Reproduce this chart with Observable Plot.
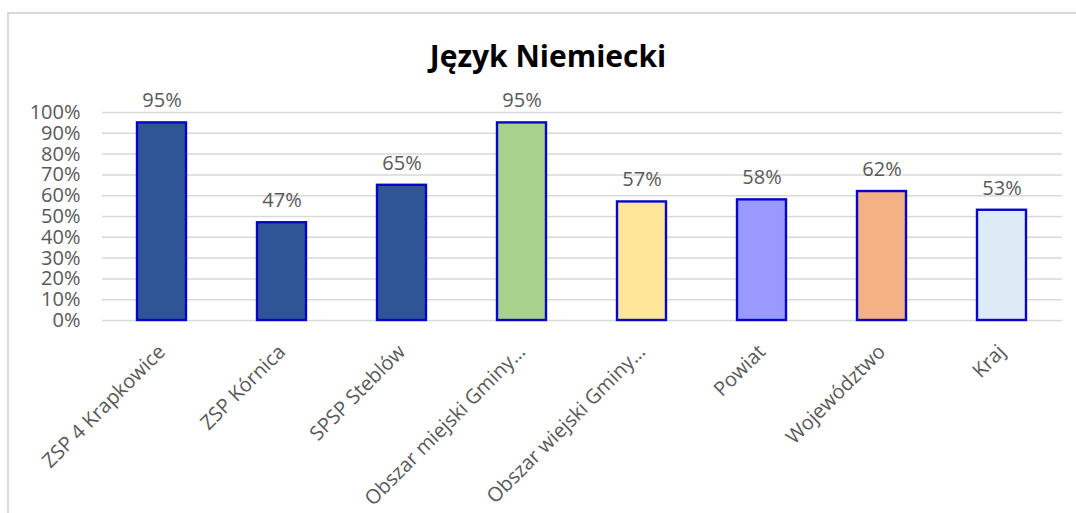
<!DOCTYPE html>
<html>
<head>
<meta charset="utf-8">
<script src="https://cdn.jsdelivr.net/npm/d3@7"></script>
<script src="https://cdn.jsdelivr.net/npm/@observablehq/plot@0.6"></script>
<style>
  html, body { margin: 0; padding: 0; background: #fff; }
  #wrap { position: relative; width: 1076px; height: 513px; overflow: hidden; font-family: "Open Sans", sans-serif; }
  #frame { position: absolute; left: 7px; top: 12px; right: -10px; bottom: -10px; border-top: 2px solid #d9d9d9; border-left: 2px solid #d9d9d9; }
  #title { position: absolute; left: 0; width: 1096px; top: 36px; text-align: center; font-weight: bold; font-size: 30px; color: #000; line-height: 40px; }
  #chart { position: absolute; left: 0; top: 0; }
</style>
</head>
<body>
<div id="wrap">
  <div id="frame"></div>
  <div id="chart"></div>
  <div id="title">Język Niemiecki</div>
</div>
<script>
const categories = ["ZSP 4 Krapkowice", "ZSP Kórnica", "SPSP Steblów", "Obszar miejski Gminy…", "Obszar wiejski Gminy…", "Powiat", "Województwo", "Kraj"];
const values = [0.95, 0.47, 0.65, 0.95, 0.57, 0.58, 0.62, 0.53];
const colors = ["#2F5597", "#2F5597", "#2F5597", "#A9D18E", "#FFE699", "#9999FF", "#F4B183", "#DEEBF7"];
const yTicks = [0, 0.1, 0.2, 0.3, 0.4, 0.5, 0.6, 0.7, 0.8, 0.9, 1.0];

const data = categories.map((c, i) => ({category: c, value: values[i], color: colors[i]}));
const pct = d3.format(".0%");

const chart = Plot.plot({
  width: 1076,
  height: 513,
  marginTop: 112,
  marginBottom: 193,
  marginLeft: 102,
  marginRight: 14,
  style: {fontFamily: "'Open Sans', sans-serif", background: "transparent", color: "#595959"},
  x: {domain: categories, paddingInner: 0.59, paddingOuter: 0.295, label: null},
  y: {domain: [0, 1], label: null},
  marks: [
    Plot.gridY(yTicks, {stroke: "#d9d9d9", strokeOpacity: 1, strokeWidth: 1.5}),
    Plot.axisY(yTicks, {tickFormat: pct, tickSize: 0, tickPadding: 22, fontSize: 20, fill: "#595959", label: null}),
    Plot.axisX({tickRotate: -45, tickSize: 0, tickPadding: 28, fontSize: 20, fill: "#595959", label: null}),
    Plot.barY(data, {x: "category", y: "value", fill: "color", stroke: "#0505cc", strokeWidth: 2.4}),
    Plot.text(data, {x: "category", y: "value", text: d => pct(d.value), dy: -22, fontSize: 20, fill: "#595959"})
  ]
});
document.getElementById("chart").appendChild(chart);
</script>
</body>
</html>
